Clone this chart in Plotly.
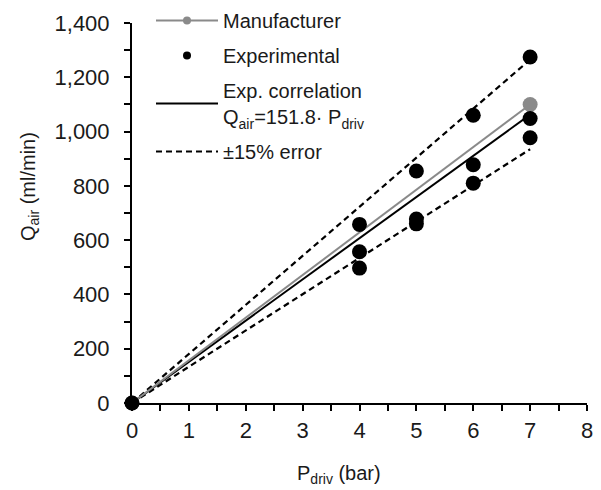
import plotly.graph_objects as go

# Data
manuf_p = [0, 7]
manuf_q = [0, 1100]

exp_p = [0, 4, 4, 4, 5, 5, 5, 6, 6, 6, 7, 7, 7]
exp_q = [0, 658, 557, 497, 855, 678, 660, 1060, 878, 810, 1275, 1048, 977]

corr_p = [0, 7]
corr_q = [0, 1062.6]   # 151.8 * P

err_p = [0, 7]
err_upper_q = [0, 1265]
err_lower_q = [0, 935]

FONT = "Liberation Sans, Arial, sans-serif"
GRAY = "#8a8a8a"
TXT = "#1a1a1a"

L, R, T, B = 132, 14, 23, 87
W, H = 601, 490
PW, PH = W - L - R, H - T - B

def px2paper(px, py):
    return (px - L) / PW, (H - B - py) / PH

fig = go.Figure()

# dashed error lines
fig.add_trace(go.Scatter(x=err_p, y=err_upper_q, mode="lines",
                         line=dict(color="black", width=2.2, dash="6px,4px"),
                         showlegend=False, hoverinfo="skip"))
fig.add_trace(go.Scatter(x=err_p, y=err_lower_q, mode="lines",
                         line=dict(color="black", width=2.2, dash="6px,4px"),
                         showlegend=False, hoverinfo="skip"))
# correlation
fig.add_trace(go.Scatter(x=corr_p, y=corr_q, mode="lines",
                         line=dict(color="black", width=2),
                         showlegend=False))
# manufacturer
fig.add_trace(go.Scatter(x=manuf_p, y=manuf_q, mode="lines+markers",
                         line=dict(color=GRAY, width=2),
                         marker=dict(color=GRAY, size=15),
                         showlegend=False, cliponaxis=False))
# experimental
fig.add_trace(go.Scatter(x=exp_p, y=exp_q, mode="markers",
                         marker=dict(color="black", size=15),
                         showlegend=False, cliponaxis=False))

# legend-only entries
fig.add_trace(go.Scatter(x=[None], y=[None], mode="lines+markers", name="Manufacturer",
                         line=dict(color=GRAY, width=2), marker=dict(color=GRAY, size=8),
                         legendgroup="a", legendrank=1))
fig.add_trace(go.Scatter(x=[None], y=[None], mode="markers", name="Experimental",
                         marker=dict(color="black", size=8),
                         legendgroup="b", legendrank=2))
fig.add_trace(go.Scatter(x=[None], y=[None], mode="lines",
                         name="Exp. correlation<br>Q<sub>air</sub>=151.8· P<sub>driv</sub>",
                         line=dict(color="black", width=2),
                         legendgroup="c", legendrank=3))
fig.add_trace(go.Scatter(x=[None], y=[None], mode="lines", name="±15% error",
                         line=dict(color="black", width=2, dash="6px,4px"),
                         legendgroup="d", legendrank=4))

axis_common = dict(showgrid=False, zeroline=False, showline=True, linecolor="black",
                   linewidth=2, ticks="outside", ticklen=6, tickwidth=2, tickcolor="black",
                   tickfont=dict(family=FONT, size=22, color=TXT))

xt_x, xt_y = px2paper(339, 474)
yt_x, yt_y = px2paper(29, 187)
lg_x, lg_y = px2paper(151, 1)

fig.update_layout(
    width=W, height=H,
    margin=dict(l=L, r=R, t=T, b=B, autoexpand=False),
    plot_bgcolor="white", paper_bgcolor="white",
    font=dict(family=FONT, color=TXT),
    xaxis=dict(range=[0, 8], tickmode="linear", tick0=0, dtick=1, ticklabelstandoff=1,
               minor=dict(ticks="outside", ticklen=6, tickwidth=2, tickcolor="black", dtick=0.5, tick0=0),
               **axis_common),
    yaxis=dict(range=[0, 1400], tickmode="linear", tick0=0, dtick=200, tickformat=",d",
               ticklabelstandoff=10,
               minor=dict(ticks="outside", ticklen=6, tickwidth=2, tickcolor="black", dtick=100, tick0=0),
               **axis_common),
    legend=dict(x=lg_x, y=lg_y, xanchor="left", yanchor="top", bgcolor="rgba(0,0,0,0)",
                font=dict(family=FONT, size=20, color=TXT), tracegroupgap=6, itemwidth=62,
                traceorder="grouped"),
    annotations=[
        dict(text="P<sub>driv</sub> (bar)", xref="paper", yref="paper", x=xt_x, y=xt_y,
             xanchor="center", yanchor="middle", showarrow=False,
             font=dict(family=FONT, size=20, color=TXT)),
        dict(text="Q<sub>air</sub> (ml/min)", xref="paper", yref="paper", x=yt_x, y=yt_y,
             xanchor="center", yanchor="middle", showarrow=False, textangle=-90,
             font=dict(family=FONT, size=20, color=TXT)),
    ],
)

fig.write_html("out.html")
